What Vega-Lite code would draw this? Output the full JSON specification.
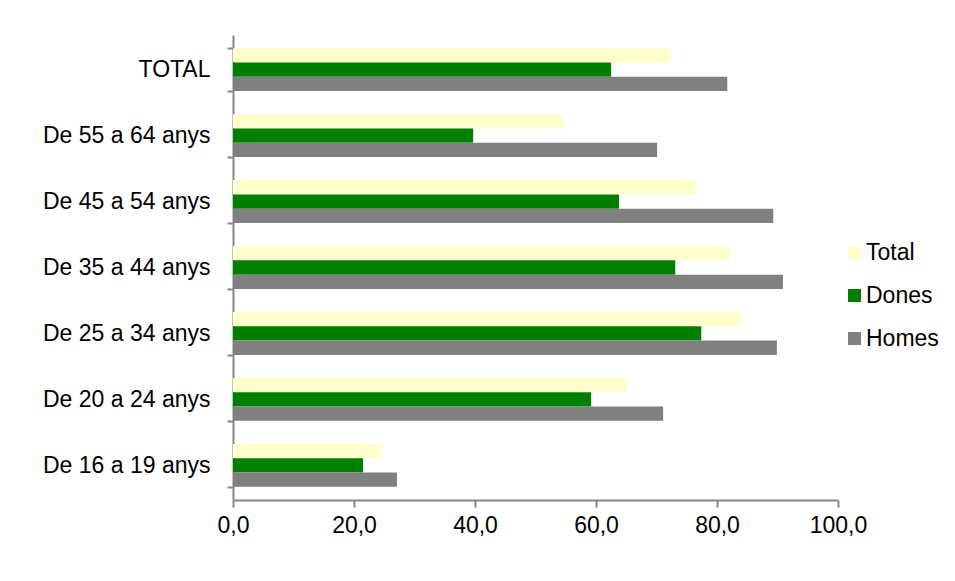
{
  "$schema": "https://vega.github.io/schema/vega-lite/v6.json",
  "width": 605,
  "height": 465,
  "autosize": "none",
  "padding": {"left": 233, "top": 35, "right": 117, "bottom": 81},
  "background": "white",
  "data": {
    "values": [
      {"grup": "TOTAL", "serie": "Total", "valor": 72.4},
      {"grup": "TOTAL", "serie": "Dones", "valor": 62.5},
      {"grup": "TOTAL", "serie": "Homes", "valor": 81.7},
      {"grup": "De 55 a 64 anys", "serie": "Total", "valor": 54.5},
      {"grup": "De 55 a 64 anys", "serie": "Dones", "valor": 39.7},
      {"grup": "De 55 a 64 anys", "serie": "Homes", "valor": 70.1},
      {"grup": "De 45 a 54 anys", "serie": "Total", "valor": 76.4},
      {"grup": "De 45 a 54 anys", "serie": "Dones", "valor": 63.8},
      {"grup": "De 45 a 54 anys", "serie": "Homes", "valor": 89.3},
      {"grup": "De 35 a 44 anys", "serie": "Total", "valor": 82.1},
      {"grup": "De 35 a 44 anys", "serie": "Dones", "valor": 73.1},
      {"grup": "De 35 a 44 anys", "serie": "Homes", "valor": 90.9},
      {"grup": "De 25 a 34 anys", "serie": "Total", "valor": 84.0},
      {"grup": "De 25 a 34 anys", "serie": "Dones", "valor": 77.4},
      {"grup": "De 25 a 34 anys", "serie": "Homes", "valor": 89.9},
      {"grup": "De 20 a 24 anys", "serie": "Total", "valor": 65.1},
      {"grup": "De 20 a 24 anys", "serie": "Dones", "valor": 59.2},
      {"grup": "De 20 a 24 anys", "serie": "Homes", "valor": 71.1},
      {"grup": "De 16 a 19 anys", "serie": "Total", "valor": 24.5},
      {"grup": "De 16 a 19 anys", "serie": "Dones", "valor": 21.5},
      {"grup": "De 16 a 19 anys", "serie": "Homes", "valor": 27.1}
    ]
  },
  "mark": {"type": "bar"},
  "encoding": {
    "y": {
      "field": "grup",
      "type": "nominal",
      "sort": null,
      "scale": {"paddingInner": 0.35, "paddingOuter": 0.2},
      "axis": {
        "title": null,
        "tickBand": "extent",
        "domainColor": "#868686",
        "domainWidth": 2,
        "tickColor": "#868686",
        "tickWidth": 2,
        "tickSize": 6,
        "labelPadding": 17,
        "labelFont": "Liberation Sans",
        "labelFontSize": 23,
        "labelColor": "#000000",
        "labelLimit": 300
      }
    },
    "yOffset": {
      "field": "serie",
      "type": "nominal",
      "sort": ["Total", "Dones", "Homes"],
      "scale": {"paddingInner": 0, "paddingOuter": 0}
    },
    "x": {
      "field": "valor",
      "type": "quantitative",
      "scale": {"domain": [0, 100], "nice": false},
      "axis": {
        "title": null,
        "values": [0, 20, 40, 60, 80, 100],
        "labelExpr": "replace(format(datum.value, '.1f'), '.', ',')",
        "grid": false,
        "domainColor": "#868686",
        "domainWidth": 2,
        "tickColor": "#868686",
        "tickWidth": 2,
        "tickSize": 7,
        "labelPadding": 7,
        "labelFont": "Liberation Sans",
        "labelFontSize": 23,
        "labelColor": "#000000",
        "labelFlush": false
      }
    },
    "color": {
      "field": "serie",
      "type": "nominal",
      "sort": ["Total", "Dones", "Homes"],
      "scale": {"domain": ["Total", "Dones", "Homes"], "range": ["#FFFFCC", "#008000", "#808080"]},
      "legend": {
        "title": null,
        "orient": "none",
        "legendX": 610,
        "legendY": 206,
        "symbolType": "square",
        "symbolSize": 170,
        "symbolStrokeWidth": 0,
        "labelFont": "Liberation Sans",
        "labelFontSize": 23,
        "labelColor": "#000000",
        "labelOffset": 0,
        "rowPadding": 19
      }
    }
  },
  "config": {
    "view": {"stroke": null}
  }
}
